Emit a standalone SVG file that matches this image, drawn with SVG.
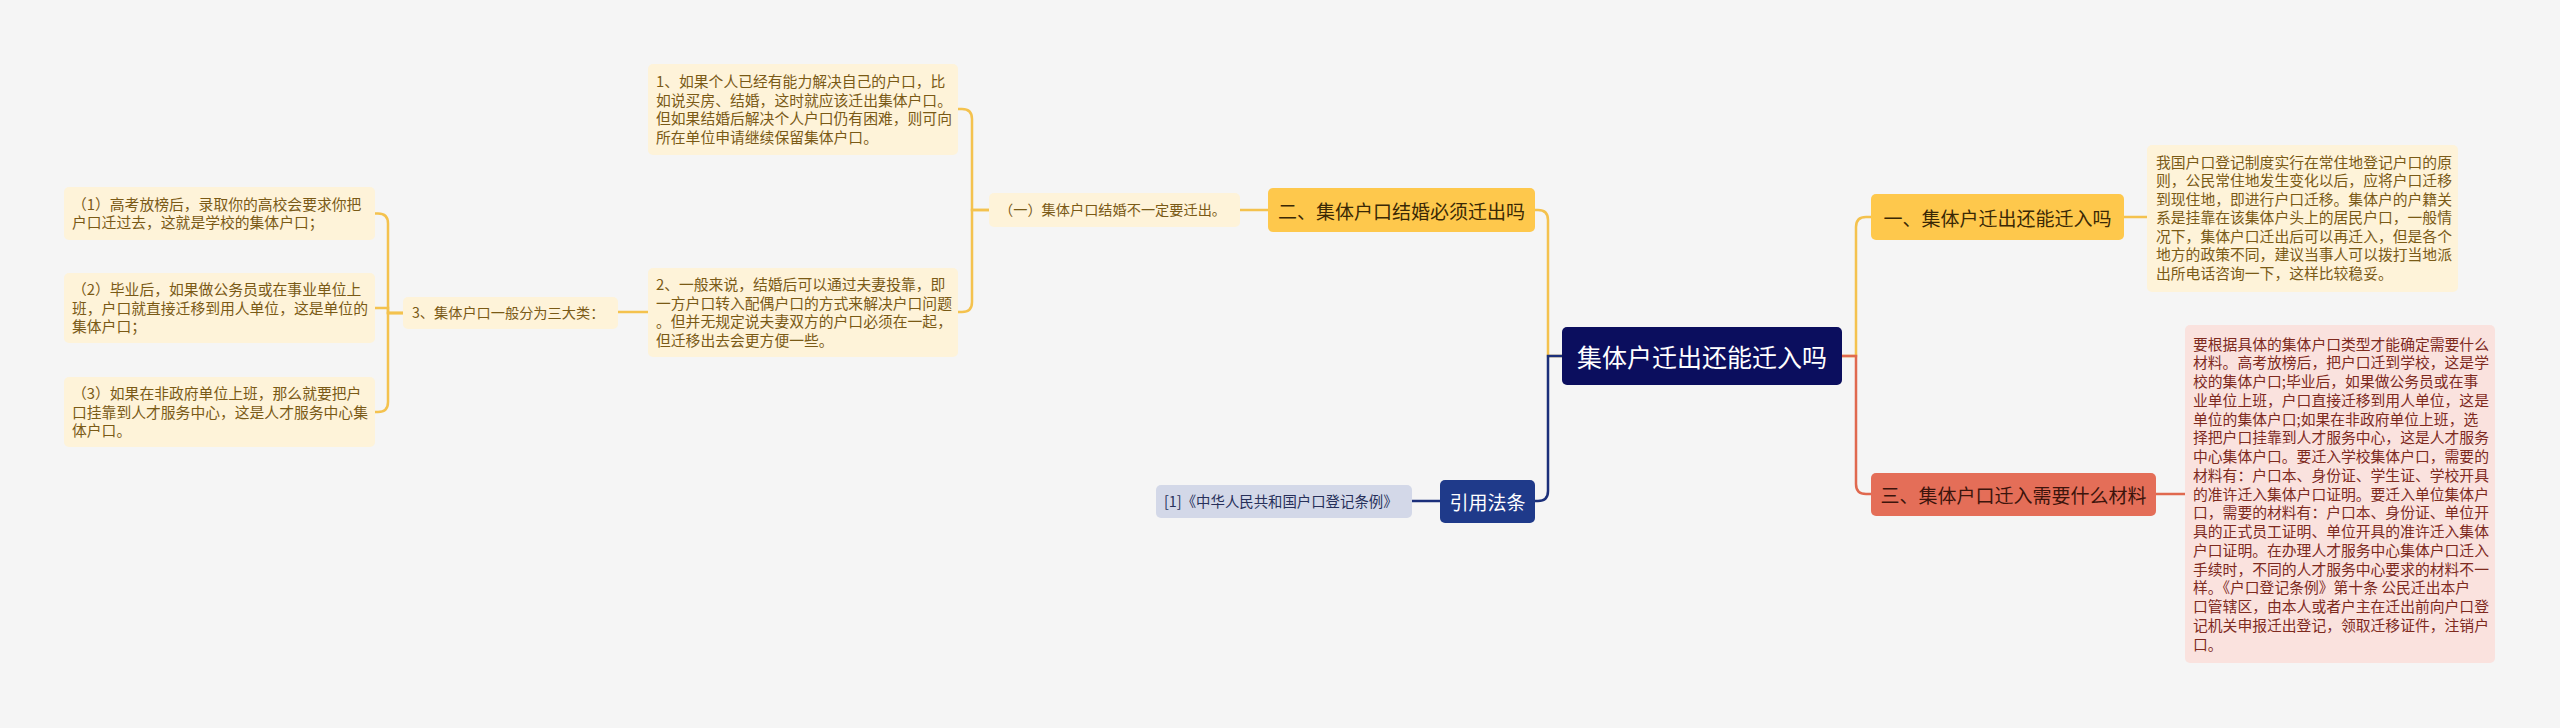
<svg xmlns="http://www.w3.org/2000/svg" width="2560" height="728" viewBox="0 0 2560 728">
<style>
text{font-family:"Noto Sans CJK SC","Noto Sans",sans-serif;}
.cy{fill:none;stroke:#F4C24E;stroke-width:2.5}
.cr{fill:none;stroke:#E0694F;stroke-width:2.5}
.cn{fill:none;stroke:#1B2F7A;stroke-width:2.5}
.ny{fill:#FEC84C}
.by{fill:#FEF3D9}
.br{fill:#FAE2DE}
.ty{fill:#7A5A16;font-size:14.8px}
.tr{fill:#7E2A1E;font-size:14.8px}
.tl{fill:#7A5A16;font-size:14.2px}
.th{font-size:19px;text-anchor:middle;dominant-baseline:central}
</style>
<rect x="0" y="0" width="2560" height="728" fill="#F5F5F5"/>
<g id="connectors">
<path class="cy" d="M1842,356 H1856 V227 Q1856,217 1866,217 H1871"/>
<path class="cr" d="M1842,356 H1856 V484 Q1856,494 1866,494 H1871"/>
<path class="cy" d="M2124,217 H2147"/>
<path class="cr" d="M2156,494 H2185"/>
<path class="cy" d="M1562,356 H1548 V220 Q1548,210 1538,210 H1535"/>
<path class="cn" d="M1562,356 H1548 V491 Q1548,501 1538,501 H1535"/>
<path class="cn" d="M1440,501 H1412"/>
<path class="cy" d="M1268,210 H1240"/>
<path class="cy" d="M989,210 H972 V119 Q972,109 962,109 H958"/>
<path class="cy" d="M989,210 H972 V302 Q972,312 962,312 H958"/>
<path class="cy" d="M648,312 H618"/>
<path class="cy" d="M403,313 H388 V223.5 Q388,213.5 378,213.5 H375"/>
<path class="cy" d="M403,313 H388 V308 H375"/>
<path class="cy" d="M403,313 H388 V402 Q388,412 378,412 H375"/>
</g>
<g id="root">
<rect x="1562" y="327" width="280" height="58" rx="5" fill="#0B0E5E"/>
<text x="1702" y="356" font-size="25" fill="#FFFFFF" text-anchor="middle" dominant-baseline="central">集体户迁出还能迁入吗</text>
</g>
<g id="n1">
<rect class="ny" x="1871" y="194" width="253" height="46" rx="5"/>
<text class="th" x="1997.5" y="217" fill="#3A2805">一、集体户迁出还能迁入吗</text>
</g>
<g id="n1a">
<rect class="by" x="2147" y="145" width="311" height="147" rx="5"/>
<text class="ty"><tspan x="2156" y="167.5">我国户口登记制度实行在常住地登记户口的原</tspan><tspan x="2156" y="186">则，公民常住地发生变化以后，应将户口迁移</tspan><tspan x="2156" y="204.5">到现住地，即进行户口迁移。集体户的户籍关</tspan><tspan x="2156" y="223">系是挂靠在该集体户头上的居民户口，一般情</tspan><tspan x="2156" y="241.5">况下，集体户口迁出后可以再迁入，但是各个</tspan><tspan x="2156" y="260">地方的政策不同，建议当事人可以拨打当地派</tspan><tspan x="2156" y="278.5">出所电话咨询一下，这样比较稳妥。</tspan></text>
</g>
<g id="n3">
<rect x="1871" y="473" width="285" height="43" rx="5" fill="#E46E58"/>
<text class="th" x="2013.5" y="494.5" fill="#3C140C">三、集体户口迁入需要什么材料</text>
</g>
<g id="n3a">
<rect class="br" x="2185" y="325" width="310" height="338" rx="5"/>
<text class="tr"><tspan x="2193" y="349.5">要根据具体的集体户口类型才能确定需要什么</tspan><tspan x="2193" y="368.25">材料。高考放榜后，把户口迁到学校，这是学</tspan><tspan x="2193" y="387">校的集体户口;毕业后，如果做公务员或在事</tspan><tspan x="2193" y="405.75">业单位上班，户口直接迁移到用人单位，这是</tspan><tspan x="2193" y="424.5">单位的集体户口;如果在非政府单位上班，选</tspan><tspan x="2193" y="443.25">择把户口挂靠到人才服务中心，这是人才服务</tspan><tspan x="2193" y="462">中心集体户口。要迁入学校集体户口，需要的</tspan><tspan x="2193" y="480.75">材料有：户口本、身份证、学生证、学校开具</tspan><tspan x="2193" y="499.5">的准许迁入集体户口证明。要迁入单位集体户</tspan><tspan x="2193" y="518.25">口，需要的材料有：户口本、身份证、单位开</tspan><tspan x="2193" y="537">具的正式员工证明、单位开具的准许迁入集体</tspan><tspan x="2193" y="555.75">户口证明。在办理人才服务中心集体户口迁入</tspan><tspan x="2193" y="574.5">手续时，不同的人才服务中心要求的材料不一</tspan><tspan x="2193" y="593.25">样。《户口登记条例》第十条 公民迁出本户</tspan><tspan x="2193" y="612">口管辖区，由本人或者户主在迁出前向户口登</tspan><tspan x="2193" y="630.75">记机关申报迁出登记，领取迁移证件，注销户</tspan><tspan x="2193" y="649.5">口。</tspan></text>
</g>
<g id="n2">
<rect class="ny" x="1268" y="188" width="267" height="44" rx="5"/>
<text class="th" x="1401.5" y="210" fill="#3A2805">二、集体户口结婚必须迁出吗</text>
</g>
<g id="n2a">
<rect class="by" x="989" y="193" width="251" height="34" rx="5"/>
<text class="tl" x="999" y="215">（一）集体户口结婚不一定要迁出。</text>
</g>
<g id="n2a1">
<rect class="by" x="648" y="64" width="310" height="91" rx="5"/>
<text class="ty"><tspan x="656" y="87">1、如果个人已经有能力解决自己的户口，比</tspan><tspan x="656" y="105.5">如说买房、结婚，这时就应该迁出集体户口。</tspan><tspan x="656" y="124">但如果结婚后解决个人户口仍有困难，则可向</tspan><tspan x="656" y="142.5">所在单位申请继续保留集体户口。</tspan></text>
</g>
<g id="n2a2">
<rect class="by" x="648" y="268" width="310" height="89" rx="5"/>
<text class="ty"><tspan x="656" y="290">2、一般来说，结婚后可以通过夫妻投靠，即</tspan><tspan x="656" y="308.5">一方户口转入配偶户口的方式来解决户口问题</tspan><tspan x="656" y="327">。但并无规定说夫妻双方的户口必须在一起，</tspan><tspan x="656" y="345.5">但迁移出去会更方便一些。</tspan></text>
</g>
<g id="n2a2a">
<rect class="by" x="403" y="297" width="215" height="32" rx="5"/>
<text class="tl" x="412" y="318">3、集体户口一般分为三大类：</text>
</g>
<g id="c1">
<rect class="by" x="64" y="187" width="311" height="53" rx="5"/>
<text class="ty"><tspan x="72" y="209.5">（1）高考放榜后，录取你的高校会要求你把</tspan><tspan x="72" y="228">户口迁过去，这就是学校的集体户口；</tspan></text>
</g>
<g id="c2">
<rect class="by" x="64" y="273" width="311" height="70" rx="5"/>
<text class="ty"><tspan x="72" y="295">（2）毕业后，如果做公务员或在事业单位上</tspan><tspan x="72" y="313.5">班，户口就直接迁移到用人单位，这是单位的</tspan><tspan x="72" y="332">集体户口；</tspan></text>
</g>
<g id="c3">
<rect class="by" x="64" y="377" width="311" height="70" rx="5"/>
<text class="ty"><tspan x="72" y="399">（3）如果在非政府单位上班，那么就要把户</tspan><tspan x="72" y="417.5">口挂靠到人才服务中心，这是人才服务中心集</tspan><tspan x="72" y="436">体户口。</tspan></text>
</g>
<g id="law">
<rect x="1440" y="480" width="95" height="43" rx="5" fill="#1F3A8A"/>
<text class="th" x="1487.5" y="501.5" fill="#FFFFFF">引用法条</text>
</g>
<g id="law1">
<rect x="1156" y="485" width="256" height="33" rx="5" fill="#D3D8E8"/>
<text x="1164" y="506.5" font-size="14.4" fill="#27305A">[1]《中华人民共和国户口登记条例》</text>
</g>
</svg>
